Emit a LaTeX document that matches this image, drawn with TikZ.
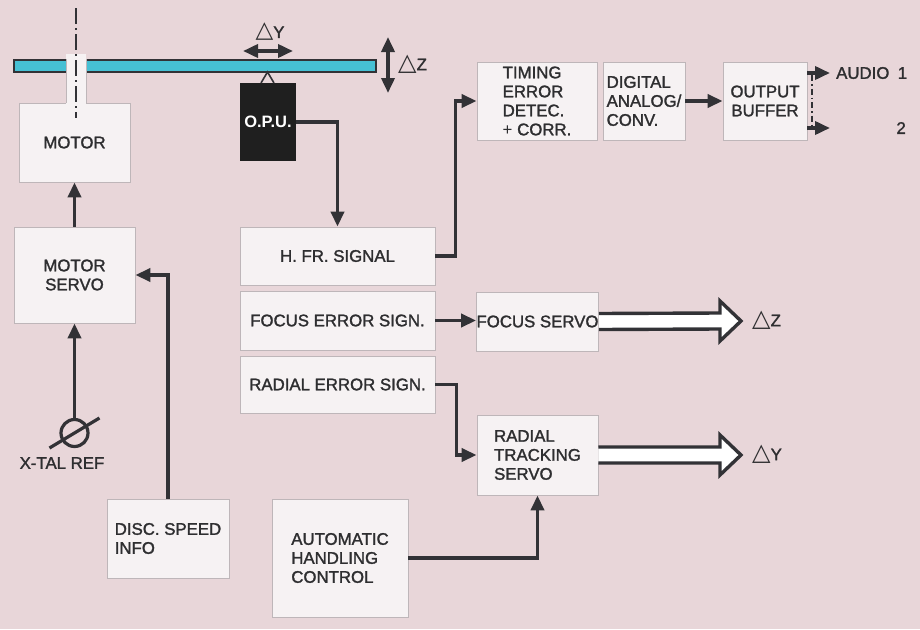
\documentclass[tikz,border=0pt]{standalone}
\usepackage{fontspec}
\setmainfont{Liberation Sans}[BoldFont={Liberation Sans}, BoldFeatures={FakeBold=1.6}]
\newfontfamily\symf{DejaVu Sans}
\newfontfamily\opufont{Liberation Sans Bold}
\usetikzlibrary{arrows.meta,calc}
\definecolor{bgpink}{RGB}{232,214,217}
\definecolor{boxfill}{RGB}{246,242,243}
\definecolor{boxedge}{RGB}{190,182,185}
\definecolor{ink}{RGB}{50,50,54}
\definecolor{txt}{RGB}{46,46,48}
\definecolor{disccol}{RGB}{70,192,212}
\tikzset{
  x=1pt, y=-1pt,
  lbl/.style={font=\bfseries\fontsize{16.8}{19}\selectfont, text=txt, inner sep=0pt},
  blk/.style={lbl, draw=boxedge, line width=0.8pt, fill=boxfill, align=center},
  blkl/.style={blk, align=left},
  wire/.style={draw=ink, line width=3.6pt},
  tip/.tip={Triangle[length=15pt,width=13pt]},
  arr/.style={wire, -tip},
  darr/.style={wire, tip-tip},
  fat/.style={draw=ink, line width=3.4pt, fill=white, line join=miter},
  delta/.style={lbl, anchor=west},
}
\newcommand\tri[1]{{\mdseries\symf\fontsize{#1}{#1}\selectfont △}}
\begin{document}
\begin{tikzpicture}
\useasboundingbox (0,0) rectangle (920,629);
\fill[bgpink] (0,0) rectangle (920,629);

% disc, shaft, axis
\node[blk, minimum width=111pt, minimum height=79pt] (motor) at (74.5,142.5) {MOTOR};
\filldraw[fill=disccol, draw=ink, line width=1.8pt] (14,60) rectangle (376,72);
\fill[boxfill] (66,54) rectangle (86,104);
\draw[boxedge, line width=0.6pt] (66,59) -- (66,103) (86,59) -- (86,103);
\draw[ink, line width=1.1pt, dash pattern=on 16pt off 4pt on 2pt off 4pt] (76,8) -- (76,118);

% OPU
\node[fill=black!88, minimum width=56pt, minimum height=78pt, inner sep=0pt,
      font=\opufont\fontsize{16.5}{19}\selectfont, text=white] (opu) at (268,122) {O.P.U.};
\draw[ink, line width=1.6pt, line join=miter] (261,83) -- (267.5,72) -- (274,83);

% top deltas
\coordinate (dyl) at (243,51); \coordinate (dyr) at (293,51);
\draw[darr] (dyl) -- (dyr);
\node[lbl] (dytop) at (270,32) {\tri{23}Y};
\coordinate (dzt) at (388,37); \coordinate (dzb) at (388,93);
\draw[darr] (dzt) -- (dzb);
\node[delta] (dztop) at (398,64) {\tri{24}Z};

% signal boxes
\node[blk, minimum width=195pt, minimum height=58pt] (hfr) at (337.5,256) {H. FR. SIGNAL};
\node[blk, minimum width=195pt, minimum height=59pt] (ferr) at (337.5,320.5) {FOCUS ERROR SIGN.};
\node[blk, minimum width=195pt, minimum height=57pt] (rerr) at (337.5,384.5) {RADIAL ERROR SIGN.};

% audio chain
\node[blkl, minimum width=120pt, minimum height=78pt] (timing) at (537,101) {TIMING\\ERROR\\DETEC.\\{\mdseries+} CORR.};
\node[blkl, minimum width=82pt, minimum height=78pt] (da) at (644,101) {DIGITAL\\ANALOG/\\CONV.};
\node[blk, minimum width=84pt, minimum height=78pt] (obuf) at (765,101) {OUTPUT\\BUFFER};

% servos
\node[blk, minimum width=121pt, minimum height=59pt] (fservo) at (537.5,321.5) {FOCUS SERVO};
\node[blkl, minimum width=121pt, minimum height=80pt] (rservo) at (537.5,455) {RADIAL\\TRACKING\\SERVO};

% left column
\node[blk, minimum width=121pt, minimum height=96pt] (mservo) at (74.5,275) {MOTOR\\SERVO};
\node[draw=ink, line width=3.2pt, circle, minimum size=27pt, inner sep=0pt] (xtal) at (74.5,433) {};
\draw[ink, line width=3.2pt] ($(xtal)+(-25,15)$) -- ($(xtal)+(25,-15)$);
\node[lbl] (xtaltxt) at (62,463) {X-TAL REF};
\node[blkl, minimum width=122pt, minimum height=79pt] (dsi) at (168,538.5) {DISC. SPEED\\INFO};
\node[blkl, minimum width=136pt, minimum height=118pt] (ahc) at (340,558) {AUTOMATIC\\HANDLING\\CONTROL};

% connectors
\draw[arr] (mservo.north) -- (motor.south);
\draw[arr] (xtal.north) -- (mservo.south);
\draw[arr] (dsi.north) |- (mservo.east);
\draw[arr] (opu.east) -| (hfr.north);
\draw[arr] (hfr.east) -- ++(20,0) |- (timing.west);
\draw[arr] (ferr.east) -- (ferr.east -| fservo.west);
\draw[arr] (rerr.east) -- ++(21,0) |- (rservo.west);
\draw[arr] (ahc.east) -| (rservo.south);
\draw[arr] (da.east) -- (obuf.west);

% audio outputs
\coordinate (a1) at (830,73);
\coordinate (a2) at (830,128);
\draw[arr] (a1 -| obuf.east) -- (a1);
\draw[arr] (a2 -| obuf.east) -- (a2);
\draw[ink, line width=1.3pt, dash pattern=on 6pt off 3pt on 1.5pt off 3pt] (812,75) -- (812,126);
\node[lbl, anchor=west] (aud1) at (836,73) {AUDIO\hspace{0.5em}1};
\node[lbl, anchor=east] (aud2) at (906,128) {2};

% fat arrows
\coordinate (fz) at (741,321);
\draw[fat] ($(fservo.east)+(0,-8)$) -- ($(fz)+(-21,-8)$) -- ($(fz)+(-21,-20)$) -- (fz)
  -- ($(fz)+(-21,20)$) -- ($(fz)+(-21,8)$) -- ($(fservo.east)+(0,8)$);
\node[delta] (dzr) at (752,320) {\tri{24}Z};
\coordinate (fy) at (741,455);
\draw[fat] ($(rservo.east)+(0,-8)$) -- ($(fy)+(-21,-8)$) -- ($(fy)+(-21,-20)$) -- (fy)
  -- ($(fy)+(-21,20)$) -- ($(fy)+(-21,8)$) -- ($(rservo.east)+(0,8)$);
\node[delta] (dyr2) at (752,454) {\tri{24}Y};
\end{tikzpicture}
\end{document}
